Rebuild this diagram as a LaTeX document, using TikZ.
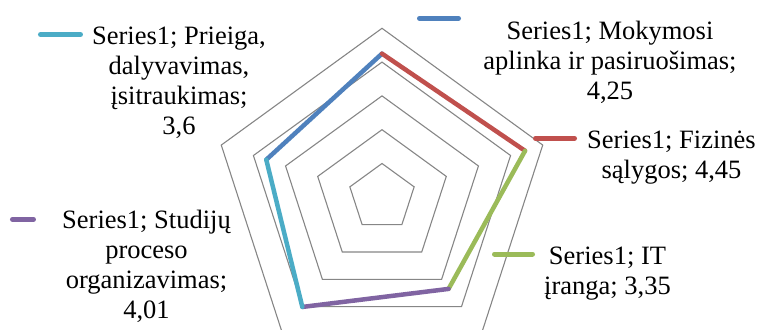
\documentclass[tikz,border=0pt]{standalone}
\usepackage{fontspec}
\setmainfont{Liberation Serif}
\usepackage{tikz}
\usetikzlibrary{positioning}
\definecolor{gridgray}{HTML}{868686}
\definecolor{mokblue}{HTML}{4F81BD}
\definecolor{fizred}{HTML}{C0504D}
\definecolor{itgreen}{HTML}{9BBB59}
\definecolor{studpurple}{HTML}{8064A2}
\definecolor{pricyan}{HTML}{4BACC6}
\def\ringunit{33.8}
\def\canvas{(-382,-131.7) rectangle (377,197.3)}
\tikzset{
  ring/.style={draw=gridgray, line width=1.1pt, line join=miter},
  seg/.style={line width=4.5pt, line cap=round},
  legkey/.style={line width=5pt, line cap=round},
  lbl/.style={font=\fontsize{26.5}{30}\selectfont, align=center, inner sep=0pt, anchor=north}
}

\begin{document}
\begin{tikzpicture}[x=1pt, y=1pt]
    % Riba
    \useasboundingbox \canvas;
    \path[clip] \canvas;
    % Tinklelis
    \foreach \r in {1,...,5}{
        \draw[ring] (90:{\r*\ringunit}) -- (18:{\r*\ringunit}) -- (-54:{\r*\ringunit})
            -- (-126:{\r*\ringunit}) -- (162:{\r*\ringunit}) -- cycle;
    }
    % Reiksmes
    \coordinate (pMok)  at (90:{4.25*\ringunit});
    \coordinate (pFiz)  at (18:{4.45*\ringunit});
    \coordinate (pIT)   at (-54:{3.35*\ringunit});
    \coordinate (pStud) at (-126:{4.01*\ringunit});
    \coordinate (pPri)  at (162:{3.6*\ringunit});
    \draw[seg, mokblue]    (pPri)  -- (pMok);
    \draw[seg, fizred]     (pMok)  -- (pFiz);
    \draw[seg, itgreen]    (pFiz)  -- (pIT);
    \draw[seg, studpurple] (pIT)   -- (pStud);
    \draw[seg, pricyan]    (pStud) -- (pPri);
    % Etiketes
    \node[lbl] (lPri) at (-203,174.3) {\strut Series1; Prieiga,\\dalyvavimas,\\įsitraukimas;\\3,6};
    \draw[legkey, pricyan] (-341.5,162.8) -- (-301.5,162.8);
    \node[lbl] (lMok) at (228,179.3) {\strut Series1; Mokymosi\\aplinka ir pasiruošimas;\\4,25};
    \draw[legkey, mokblue] (37.5,179) -- (76.5,179);
    \node[lbl] (lFiz) at (289.5,70.3) {\strut Series1; Fizinės\\sąlygos; 4,45};
    \draw[legkey, fizred] (153.5,59) -- (192.5,59);
    \node[lbl] (lIT) at (225.5,-45.7) {\strut Series1; IT\\įranga; 3,35};
    \draw[legkey, itgreen] (112.5,-56.7) -- (150.5,-56.7);
    \node[lbl] (lStud) at (-235.5,-10) {\strut Series1; Studijų\\proceso\\organizavimas;\\4,01};
    \draw[legkey, studpurple] (-369.5,-22) -- (-348.5,-22);
\end{tikzpicture}
\end{document}
